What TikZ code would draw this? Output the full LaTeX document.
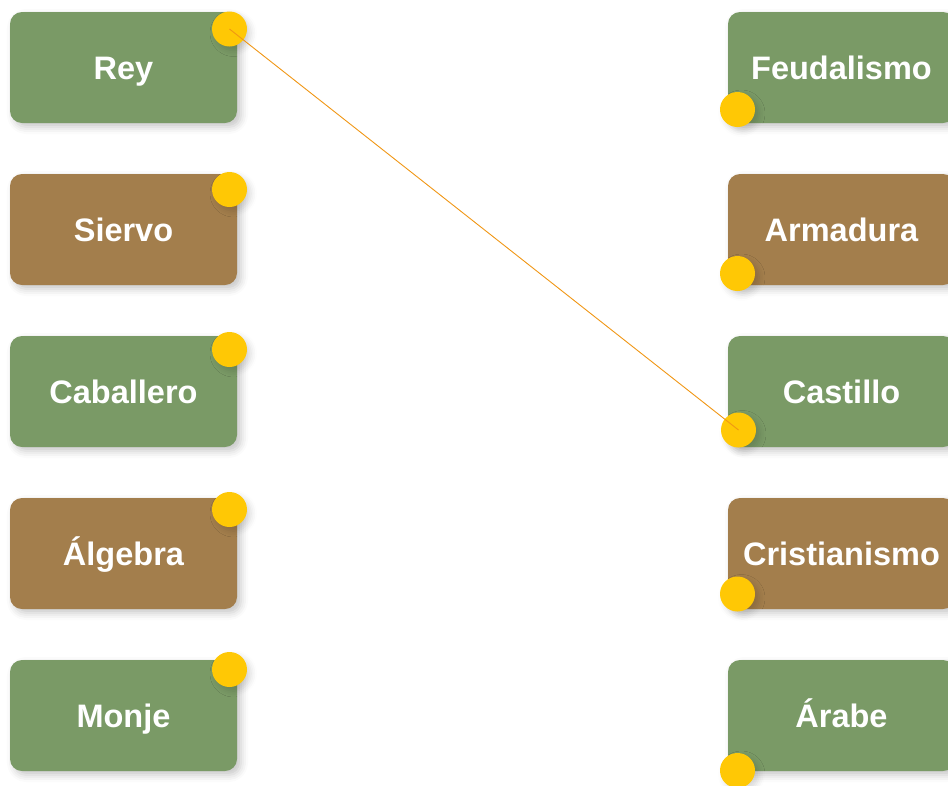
\documentclass[tikz,border=0pt]{standalone}
\usepackage{fontspec}
\setmainfont{Liberation Sans}
\usetikzlibrary{shadows.blur}

\definecolor{verde}{RGB}{122,154,102}
\definecolor{marron}{RGB}{163,126,76}
\definecolor{amarillo}{RGB}{255,200,5}
\definecolor{naranja}{RGB}{240,150,20}

\tikzset{
	sombra/.style={blur shadow={shadow xshift=4pt, shadow yshift=-4pt, shadow blur radius=7pt, shadow opacity=22}},
	tarjeta/.style={sombra, rounded corners=12pt, minimum width=227pt, minimum height=111pt, inner sep=0pt,
		text=white, font=\bfseries\fontsize{32.5}{32.5}\selectfont, text height=23.3pt, text depth=0pt},
	punto/.style={blur shadow={shadow xshift=4pt, shadow yshift=-4pt, shadow blur radius=6pt, shadow opacity=15},
		circle, fill=amarillo, minimum size=35pt, inner sep=0pt}
}

\begin{document}
\begin{tikzpicture}[x=1pt, y=-1pt]
					\useasboundingbox (0,0) rectangle (948,785);
					
					%COLUMNA IZQUIERDA
					\node[tarjeta, fill=verde] (rey) at (123.5,67.5) {Rey};
					\node[tarjeta, fill=marron] (siervo) at (123.5,229.5) {Siervo};
					\node[tarjeta, fill=verde] (caballero) at (123.5,391.5) {Caballero};
					\node[tarjeta, fill=marron] (algebra) at (123.5,553.5) {Álgebra};
					\node[tarjeta, fill=verde] (monje) at (123.5,715.5) {Monje};
					
					%COLUMNA DERECHA
					\node[tarjeta, fill=verde] (feudalismo) at (841.5,67.5) {Feudalismo};
					\node[tarjeta, fill=marron] (armadura) at (841.5,229.5) {Armadura};
					\node[tarjeta, fill=verde] (castillo) at (841.5,391.5) {Castillo};
					\node[tarjeta, fill=marron] (cristianismo) at (841.5,553.5) {Cristianismo};
					\node[tarjeta, fill=verde] (arabe) at (841.5,715.5) {Árabe};
					
					%PUNTOS
					\node[punto] (reyP) at (229.5,29) {};
					\node[punto] (siervoP) at (229.5,189.5) {};
					\node[punto] (caballeroP) at (229.5,349.5) {};
					\node[punto] (algebraP) at (229.5,509.5) {};
					\node[punto] (monjeP) at (229.5,669.5) {};
					\node[punto] (feudalismoP) at (737.5,109.5) {};
					\node[punto] (armaduraP) at (737.5,273.5) {};
					\node[punto] (castilloP) at (738.5,430) {};
					\node[punto] (cristianismoP) at (737.5,594) {};
					\node[punto] (arabeP) at (737.5,770.5) {};
					
					%UNION
					\draw[naranja, line width=0.9pt] (reyP.center) -- (castilloP.center);
\end{tikzpicture}
\end{document}
